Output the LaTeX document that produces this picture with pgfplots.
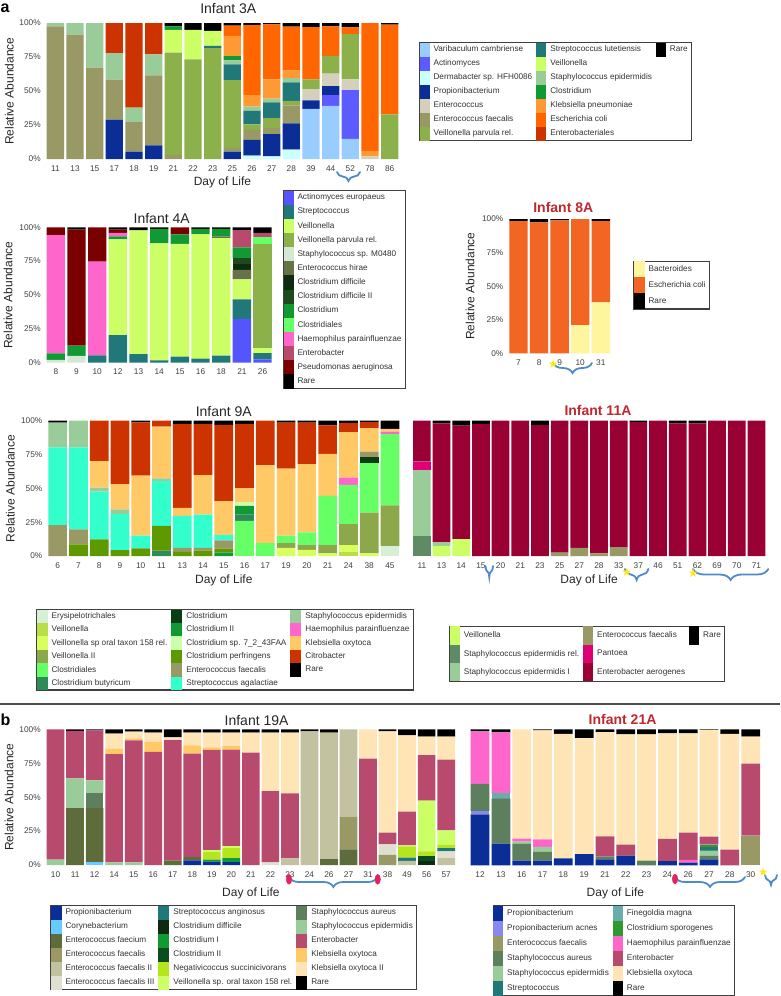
\documentclass[border=0pt]{standalone}
\usepackage{fontspec}
\setmainfont{Liberation Sans}
\newfontfamily\dejavu{DejaVu Sans}
\usepackage{pgfplots}
\pgfplotsset{compat=1.18}
\usepackage{pgfplotstable}
\usetikzlibrary{decorations.pathreplacing}

\definecolor{Var}{HTML}{99CCFF}
\definecolor{Act}{HTML}{5B5BFF}
\definecolor{Der}{HTML}{CCFFFF}
\definecolor{Pro}{HTML}{0A2E96}
\definecolor{Ent}{HTML}{D4D0BC}
\definecolor{EFa}{HTML}{999966}
\definecolor{VPa}{HTML}{8CB04A}
\definecolor{SLu}{HTML}{217878}
\definecolor{Vei}{HTML}{CCFF66}
\definecolor{SEp}{HTML}{99CC99}
\definecolor{Clo}{HTML}{119933}
\definecolor{KPn}{HTML}{FF9933}
\definecolor{ECo}{HTML}{FF6600}
\definecolor{Ebl}{HTML}{CC3300}
\definecolor{AEu}{HTML}{5555FF}
\definecolor{SMo}{HTML}{D5E8D5}
\definecolor{EHi}{HTML}{667346}
\definecolor{CDi}{HTML}{0E2A10}
\definecolor{CDt}{HTML}{1C4A1C}
\definecolor{Csl}{HTML}{66FF66}
\definecolor{Hae}{HTML}{FF66CC}
\definecolor{Ebc}{HTML}{B84A6E}
\definecolor{Pae}{HTML}{7A0000}
\definecolor{Bac}{HTML}{FFF59E}
\definecolor{ECt}{HTML}{F26522}
\definecolor{Ery}{HTML}{D6F0D6}
\definecolor{VeN}{HTML}{B8DE4A}
\definecolor{VOt}{HTML}{D8FF5E}
\definecolor{VII}{HTML}{8CA84A}
\definecolor{Cbu}{HTML}{2E8B57}
\definecolor{CNi}{HTML}{0A3D14}
\definecolor{CSe}{HTML}{CCFFAA}
\definecolor{Cpe}{HTML}{5F9900}
\definecolor{SAg}{HTML}{33FFCC}
\definecolor{KOx}{HTML}{FFC966}
\definecolor{SEr}{HTML}{5E8A66}
\definecolor{Pan}{HTML}{DD0077}
\definecolor{EAe}{HTML}{990033}
\definecolor{Cor}{HTML}{66CCFF}
\definecolor{EFm}{HTML}{5E6B3A}
\definecolor{EF2}{HTML}{C2C2A0}
\definecolor{EF3}{HTML}{E0E0D0}
\definecolor{CI}{HTML}{119933}
\definecolor{CII}{HTML}{0A4D1E}
\definecolor{Neg}{HTML}{B5E61D}
\definecolor{SAu}{HTML}{5E7F5E}
\definecolor{KO2}{HTML}{FFE4B5}
\definecolor{PAc}{HTML}{8888EE}
\definecolor{Fin}{HTML}{6AABAB}
\definecolor{CSp}{HTML}{2E9A2E}
\definecolor{titRed}{HTML}{C1272D}
\definecolor{braceB}{HTML}{4F8BCB}
\definecolor{starY}{HTML}{FFE81A}
\definecolor{ovalR}{HTML}{E0245E}
\definecolor{txt}{HTML}{333333}

% ---------------- data (segment sizes, %) ----------------
\pgfplotstableread{
X Var Act Der Pro Ent EFa VPa SLu Vei SEp Clo KPn ECo Ebl R
0 0 0 0 0 0 97.5 0 0 0 2.5 0 0 0 0 0
1 0 0 0 0 0 91.4 0 0 0 8.6 0 0 0 0 0
2 0 0 0 0 0 67.2 0 0 0 32.8 0 0 0 0 0
3 0 0 0 28.9 0 29.4 0 0 0 19.5 0 0 0 22.2 0
4 0 0 0 5.4 0 21.8 0 0 0 10.6 0 0 0 62.2 0
5 0 0 0 10 0 51.5 0 0 0 15.5 0 0 0 23 0
6 0 0 0 0 0 3 75.3 0 16.7 0 2.5 0 0 0 2.5
7 0 0 0 0 0 0 73.3 0 21.7 0 0 0 0 0 5
8 0 0 0 0 0 0 81.5 1.7 11.1 0 0 0 0 0 5.7
9 0 0 0 5.4 0 2.6 50 11.6 0 3 3 15 7.4 0 2
10 0 0 2.5 11.5 0 7.5 4 9.8 0 3.2 0 8.5 51.5 0 1.5
11 0 0 2 16.3 0 4.4 7.3 11.7 0 2.7 0 14.1 40.5 0 1
12 0 0 6.9 19.3 0 13.3 3.2 13.6 0 3.2 0 5.5 32.3 0 2.7
13 36.8 0 0 6.4 8.2 0 7.1 0 0 0 0 0 38.5 0 3
14 39 7.9 0 6.7 9.1 0 13.1 0 0 0 0 0 21.7 0 2.5
15 14.8 35.8 0 0 7.9 0 33.4 0 0 0 0 0 4.9 0 3.2
16 0 0 0 0 2 0 0 0 0 0 0 4 94 0 0
17 0 0 0 0 0 0 32.8 0 0 0 0 0 66 0 1.2
}\tA

\pgfplotstableread{
X AEu St Ve VP SM EH CD CD2 Cl Cs Ha Eb Ps R
0 0 0 0 0 2 0 0 0 4.9 0 87.4 0 5.7 0
1 0 0 0 0 5 0 0 0 7.6 0 0 0 85.7 1.7
2 0 5.4 0 0 0 0 0 0 0 0 69.2 0 25.4 0
3 0 20.4 70.6 0 0 0 0 0 2.3 0 2.5 0 2.5 1.7
4 0 6.4 91.4 0 0 0 0 0 0 0 0 0 0 2.2
5 0 1.7 86.5 0 0 0 0 0 10.6 0 0 0 0 1.2
6 0 4.4 83.3 0 0 0 0 0 7.1 0 0 0 5.2 0
7 0 3 92 0 0 0 0 0 3.8 0 0 0 0 1.2
8 0 5.2 86.8 0 0 1.3 0 0 5.5 0 0 0 0 1.2
9 32.3 14.5 14.8 0 0 6.9 4.4 4.4 7.9 0 0 12.8 0 2
10 2.5 4.5 3.8 76.9 0 0 0 0 0 4.9 0 3.2 0 4.2
}\tB

\pgfplotstableread{
X Ba EC R
0 0 98.5 1.5
1 0 97.5 2.5
2 0 99 1
3 21 79 0
4 38 60.5 1.5
}\tC

\pgfplotstableread{
X Er Ve V1 V2 Cs Cb Cl C2 C7 Cp EF SA SE Ha KO Ci R
0 0 0 0 0 0 0 0 0 0 0 22.9 57.4 18.2 0 0 0 1.5
1 0 0 0 0 0 0 0 0 0 8.6 11.1 60.6 19.7 0 0 0 0
2 0 0 0 0 0 0 0 0 0 12.3 0 35.2 3 0 19.7 29.8 0
3 0 0 0 0 0 0 0 0 0 4.4 0 26.6 3.5 0 18.7 46.8 0
4 0 0 0 0 0 0 0 0 0 5.7 0 9.3 0 0 44.4 39.4 1.2
5 0 0 0 0 0 4 0 0 0 18.2 0 33.2 2 0 38.2 4.4 0
6 0 0 0 0 0 0 0 0 0 3 3 23.6 0 0 5.9 62 2.5
7 0 0 0 0 0 0 0 0 0 3.9 2.1 24.5 0 0 29.3 37.7 2.5
8 0 0 0 0 0 0 0 2.5 0 3 6 4 0 0 24.9 56.6 3
9 0 0 0 0 25.9 4.6 0 6.5 3 0 0 0 0 0 10 47.5 2.5
10 0 0 0 0 9.6 0 0 0 0 0 0 0 0 0 57.4 33 0
11 0 0 6 3.6 5.4 0 0 0 0 0 0 0 0 0 49.5 34 1.5
12 0 0 4.5 3.5 9.5 0 0 0 0 0 0 0 0 0 50.5 30.5 1.5
13 0 0 2 6 36.5 0 0 0 0 0 0 0 0 0 31 21 3.5
14 0 3 5 15.5 29 0 0 0 0 0 0 0 0 5.4 33.7 6.6 1.8
15 0 0 2 30 36.7 0 4.2 0 0 0 4.2 0 0 0 17.5 4.4 1
16 7.4 0 0 30 52.6 0 0 0 0 0 0 0 0 2 2 0 6
}\tD

\pgfplotstableread{
X Ve SR SI EF Pa EA R
0 0 14.8 48.7 0 6.2 30.3 0
1 7.4 0 2.6 0 0 88 2
2 12.5 0 0 0 0 83.8 3.7
3 0 0 0 0 0 97.5 2.5
4 0 0 0 0 0 100 0
5 0 0 0 0 0 100 0
6 0 0 0 0 0 96.8 3.2
7 0 0 0 2.5 0 97.5 0
8 0 0 0 6 0 94 0
9 0 0 0 2 0 98 0
10 0 0 0 6.5 0 93.5 0
11 0 0 0 0 0 99 1
12 0 0 0 0 0 100 0
13 0 0 0 0 0 98 2
14 0 0 0 0 0 98 2
15 0 0 0 0 0 100 0
16 0 0 0 0 0 100 0
17 0 0 0 0 0 100 0
}\tE

\pgfplotstableread{
X Pr Co Ef Ea E2 E3 Sa Cd C1 C2 Ne V1 Au Se Eb Ko K2 R
0 0 0 0 0 0 0 0 0 0 0 0 0 0 4 96 0 0 0
1 0 0 42 0 0 0 0 0 0 0 0 0 0 21.9 34.9 0 0 1.2
2 0 2 40 0 0 0 0 0 0 0 0 0 10.8 9.6 36.8 0 0 0.8
3 0 0 0 0 0 0 0 0 0 0 0 0 0 2 79.8 4 11 3.2
4 0 0 0 0 0 0 0 0 0 0 0 0 0 2 89.9 1.5 4.9 1.7
5 0 0 0 0 0 0 0 0 0 0 0 0 0 0 83.3 7.4 6.8 2.5
6 0 0 3.5 0 0 0 0 0 0 0 0 0 0 0 88.5 0 2.1 5.9
7 3.4 0 2.5 0 0 0 0 0 0 0 0 0 0 0 76.2 6.1 9.3 2.5
8 2.5 0 0 0 0 0 0 0 1.5 0 5.8 1.2 0 0 73.8 1.9 10.8 2.5
9 2.2 0 0 0 0 0 0 0 2.8 0 7.5 1.5 0 0 71 2.7 9.8 2.5
10 0 0 0 0 0 0 0 0 0 0 0 0 0 0 82.8 0 14.7 2.5
11 0 0 0 0 0 2 0 0 0 0 0 0 0 0 52.5 0 43 2.5
12 0 0 0 0 4.9 0 0 0 0 0 0 0 0 0 47.9 0 44.7 2.5
13 0 0 0 0 98.5 0 0 0 0 0 0 0 0 0 0 0 0 1.5
14 0 0 4.4 0 93.1 0 0 0 0 0 0 0 0 0 0 0 0 2.5
15 0 0 11.5 24.1 64.4 0 0 0 0 0 0 0 0 0 0 0 0 0
16 0 0 0 0 0 0 0 0 0 0 0 0 0 0 78.4 0 21.6 0
17 0 0 0 7.4 0 7.8 0 0 0 0 0 0 0 0 8.6 0 74.7 1.5
18 0 0 0 0 3 0 2.4 0 0 0 8.4 0.7 0 0 24.8 0 56.3 4.4
19 0 0 0 0 0 0 0 3 0 3.5 3.5 37.5 0 0 33.5 0 13.6 5.4
20 0 0 0 0 5.1 4.9 2.5 0 0 0 2.5 10.5 0 0 52.2 0 16.9 5.4
}\tF

\pgfplotstableread{
X Pr Pa Ef Au Se St Fi Cs Ha Eb Ko R
0 37.5 2.5 0 19.8 0 0 0 0 38.7 0 0 1.5
1 16 0 0 33 0 0 3.9 0 44.9 0 0 2.2
2 3.4 0 0 12.3 1.7 0 0 0 2.2 0 80.4 0
3 3.4 0 0 6.4 3.7 0 0 0 5.6 0 80.2 0.7
4 5.1 0 0 0 0 0 0 0 0 0 91.5 3.4
5 8.3 0 0 0 0 0 0 0 0 0 85.3 6.4
6 4.4 0 0 2 0 0 0 0 0 14.9 76.7 2
7 7.1 0 0 0 0 0 0 0 0 8.1 81.1 3.7
8 0 0 0 3.4 0 0 0 0 0 0 92.9 3.7
9 3 0 0 0 0 0 0 0 0 16.4 77.7 2.9
10 2 0 0 0 0 0 0 0 2 20 73.1 2.9
11 4.4 0 0 2.7 3.7 2.4 0 2 0 5.9 78.4 0.5
12 0 0 0 0 0 0 0 0 0 11.5 85.1 3.4
13 0 0 21.8 0 0 0 0 0 0 53 19.8 5.4
}\tG

\newcommand\BS[3]{\addplot[fill=#1] table[x=X,y=#2]{#3};}
\newcommand\LE[2]{\addlegendimage{LI,fill=#1}\addlegendentry{\mbox{#2}}}
\newcommand\LX{\addlegendimage{empty legend}\addlegendentry{}}

\pgfplotsset{
  sw/.style 2 args={legend image code/.code={\fill[##1] (0pt,-#1) rectangle (#2,#1);}},
  panel/.style={
    scale only axis, anchor=north west, ybar stacked, ymin=0, ymax=100,
    enlargelimits=false, clip=false,
    axis line style={draw=none}, major tick length=0pt, tick style={draw=none},
    ytick={0,25,50,75,100}, yticklabels={0\%,25\%,50\%,75\%,100\%},
    tick label style={font=\fontsize{8.3}{9}\selectfont, text=black!75},
    xticklabel style={anchor=base, yshift=-12pt},
    yticklabel style={anchor=east, xshift=-2.5pt},
    every axis plot/.append style={draw=none},
    legend cell align=left,
    legend style={draw=black!75, line width=1.1pt, inner sep=0pt, row sep=0pt, column sep=0pt,
      font=\fontsize{8.2}{9}\selectfont, text=txt, fill=white,
      nodes={inner xsep=4pt, inner ysep=0pt}},
  },
  ttl/.style n args={3}{title={#1}, every axis title/.style={at={(axis description cs:#2,1)}, anchor=base, yshift=#3, font=\fontsize{14}{16}\selectfont, text=black!85}},
  ttlr/.style n args={3}{title={#1}, every axis title/.style={at={(axis description cs:#2,1)}, anchor=base, yshift=#3, font=\bfseries\fontsize{14}{16}\selectfont, text=titRed}},
  xl/.style={xlabel={Day of Life}, every axis x label/.style={at={(axis description cs:0.5,0)}, anchor=base, yshift=#1, font=\fontsize{12}{14}\selectfont, text=black!85}},
  yl/.style={ylabel={Relative Abundance}, every axis y label/.style={at={(axis description cs:#1,0.5)}, rotate=90, anchor=center, font=\fontsize{12}{14}\selectfont, text=black!85}},
}

\begin{document}
\begin{tikzpicture}
\useasboundingbox (0pt,0pt) rectangle (780pt,-996pt);

% ================= Infant 3A =================
\begin{axis}[panel, at={(46.7pt,-23pt)}, width=351.6pt, height=136pt,
  xmin=-0.44, xmax=17.44, bar width=0.88,
  xtick={0,...,17}, xticklabels={11,13,15,17,18,19,21,22,23,25,26,27,28,39,44,52,78,86},
  ttl={Infant 3A}{0.5165}{9.7pt}, xl=-26.3pt, yl=-0.106,
  LI/.style={sw={7pt}{10pt}}, legend columns=3,
  legend style={at={(axis description cs:1.0589,0.860)}, anchor=north west,
    column 2/.style={text width=108.7pt}, column 4/.style={text width=112pt}, column 6/.style={text width=28pt}}]
\LE{Var}{Varibaculum cambriense}\LE{SLu}{Streptococcus lutetiensis}\LE{black}{Rare}
\LE{Act}{Actinomyces}\LE{Vei}{Veillonella}\LX
\LE{Der}{Dermabacter sp. HFH0086}\LE{SEp}{Staphylococcus epidermidis}\LX
\LE{Pro}{Propionibacterium}\LE{Clo}{Clostridium}\LX
\LE{Ent}{Enterococcus}\LE{KPn}{Klebsiella pneumoniae}\LX
\LE{EFa}{Enterococcus faecalis}\LE{ECo}{Escherichia coli}\LX
\LE{VPa}{Veillonella parvula rel.}\LE{Ebl}{Enterobacteriales}\LX
\BS{Var}{Var}{\tA}\BS{Act}{Act}{\tA}\BS{Der}{Der}{\tA}\BS{Pro}{Pro}{\tA}\BS{Ent}{Ent}{\tA}
\BS{EFa}{EFa}{\tA}\BS{VPa}{VPa}{\tA}\BS{SLu}{SLu}{\tA}\BS{Vei}{Vei}{\tA}\BS{SEp}{SEp}{\tA}
\BS{Clo}{Clo}{\tA}\BS{KPn}{KPn}{\tA}\BS{ECo}{ECo}{\tA}\BS{Ebl}{Ebl}{\tA}\BS{black}{R}{\tA}
\end{axis}

% ================= Infant 4A =================
\begin{axis}[panel, at={(46.7pt,-227.3pt)}, width=225pt, height=135.4pt,
  xmin=-0.4425, xmax=10.4425, bar width=0.885,
  xtick={0,...,10}, xticklabels={8,9,10,12,13,14,15,16,18,21,26},
  ttl={Infant 4A}{0.511}{4pt}, yl=-0.172,
  LI/.style={sw={7.07pt}{10pt}}, legend columns=1,
  legend style={at={(axis description cs:1.050,1.2755)}, anchor=north west,
    column 2/.style={text width=118pt}}]
\LE{AEu}{Actinomyces europaeus}\LE{SLu}{Streptococcus}\LE{Vei}{Veillonella}
\LE{VPa}{Veillonella parvula rel.}\LE{SMo}{Staphylococcus sp. M0480}\LE{EHi}{Enterococcus hirae}
\LE{CDi}{Clostridium difficile}\LE{CDt}{Clostridium difficile II}\LE{Clo}{Clostridium}
\LE{Csl}{Clostridiales}\LE{Hae}{Haemophilus parainfluenzae}\LE{Ebc}{Enterobacter}
\LE{Pae}{Pseudomonas aeruginosa}\LE{black}{Rare}
\BS{AEu}{AEu}{\tB}\BS{SLu}{St}{\tB}\BS{Vei}{Ve}{\tB}\BS{VPa}{VP}{\tB}\BS{SMo}{SM}{\tB}
\BS{EHi}{EH}{\tB}\BS{CDi}{CD}{\tB}\BS{CDt}{CD2}{\tB}\BS{Clo}{Cl}{\tB}\BS{Csl}{Cs}{\tB}
\BS{Hae}{Ha}{\tB}\BS{Ebc}{Eb}{\tB}\BS{Pae}{Ps}{\tB}\BS{black}{R}{\tB}
\end{axis}

% ================= Infant 8A =================
\begin{axis}[panel, at={(509.3pt,-219pt)}, width=100.7pt, height=134.3pt,
  xmin=-0.445, xmax=4.445, bar width=0.89,
  xtick={0,...,4}, xticklabels={7,8,9,10,31},
  ttlr={Infant 8A}{0.536}{6.3pt}, yl=-0.390,
  LI/.style={sw={7.95pt}{10.7pt}}, legend columns=1,
  legend style={at={(axis description cs:1.2314,0.6895)}, anchor=north west,
    column 2/.style={text width=64pt}}]
\LE{Bac}{Bacteroides}\LE{ECt}{Escherichia coli}\LE{black}{Rare}
\BS{Bac}{Ba}{\tC}\BS{ECt}{EC}{\tC}\BS{black}{R}{\tC}
\end{axis}

% ================= Infant 9A =================
\begin{axis}[panel, at={(48.3pt,-420.7pt)}, width=351pt, height=135.3pt,
  xmin=-0.45, xmax=16.45, bar width=0.9,
  xtick={0,...,16}, xticklabels={6,7,8,9,10,11,13,14,15,16,17,19,20,21,24,38,45},
  ttl={Infant 9A}{0.5}{4.7pt}, xl=-27.6pt, yl=-0.108,
  LI/.style={sw={6.7pt}{11pt}}, legend columns=3,
  legend style={at={(axis description cs:-0.035,-0.3917)}, anchor=north west,
    column 2/.style={text width=116pt}, column 4/.style={text width=97pt}, column 6/.style={text width=100pt}}]
\LE{Ery}{Erysipelotrichales}\LE{CNi}{Clostridium}\LE{SEp}{Staphylococcus epidermidis}
\LE{VeN}{Veillonella}\LE{Clo}{Clostridium II}\LE{Hae}{Haemophilus parainfluenzae}
\LE{VOt}{Veillonella sp oral taxon 158 rel.}\LE{CSe}{Clostridium sp. 7\_2\_43FAA}\LE{KOx}{Klebsiella oxytoca}
\LE{VII}{Veillonella II}\LE{Cpe}{Clostridium perfringens}\LE{Ebl}{Citrobacter}
\LE{Csl}{Clostridiales}\LE{EFa}{Enterococcus faecalis}\LE{black}{Rare}
\LE{Cbu}{Clostridium butyricum}\LE{SAg}{Streptococcus agalactiae}\LX
\BS{Ery}{Er}{\tD}\BS{VeN}{Ve}{\tD}\BS{VOt}{V1}{\tD}\BS{VII}{V2}{\tD}\BS{Csl}{Cs}{\tD}
\BS{Cbu}{Cb}{\tD}\BS{CNi}{Cl}{\tD}\BS{Clo}{C2}{\tD}\BS{CSe}{C7}{\tD}\BS{Cpe}{Cp}{\tD}
\BS{EFa}{EF}{\tD}\BS{SAg}{SA}{\tD}\BS{SEp}{SE}{\tD}\BS{Hae}{Ha}{\tD}\BS{KOx}{KO}{\tD}
\BS{Ebl}{Ci}{\tD}\BS{black}{R}{\tD}
\end{axis}

% ================= Infant 11A =================
\begin{axis}[panel, at={(413pt,-420.7pt)}, width=352.3pt, height=135.3pt,
  xmin=-0.45, xmax=17.45, bar width=0.9, ytick=\empty,
  xtick={0,...,17}, xticklabels={11,13,14,15,20,21,23,25,27,28,33,37,46,51,62,69,70,71},
  ttlr={Infant 11A}{0.525}{5.7pt}, xl=-27.6pt,
  LI/.style={sw={9.2pt}{10pt}}, legend columns=3,
  legend style={at={(axis description cs:0.103,-0.5152)}, anchor=north west,
    column 2/.style={text width=115.4pt}, column 4/.style={text width=97pt}, column 6/.style={text width=13pt}}]
\LE{Vei}{Veillonella}\LE{EFa}{Enterococcus faecalis}\LE{black}{Rare}
\LE{SEr}{Staphylococcus epidermidis rel.}\LE{Pan}{Pantoea}\LX
\LE{SEp}{Staphylococcus epidermidis I}\LE{EAe}{Enterobacter aerogenes}\LX
\BS{Vei}{Ve}{\tE}\BS{SEr}{SR}{\tE}\BS{SEp}{SI}{\tE}\BS{EFa}{EF}{\tE}\BS{Pan}{Pa}{\tE}
\BS{EAe}{EA}{\tE}\BS{black}{R}{\tE}
\end{axis}

% ================= Infant 19A =================
\begin{axis}[panel, at={(46.7pt,-729.3pt)}, width=408.3pt, height=135.7pt,
  xmin=-0.453, xmax=20.453, bar width=0.906,
  xtick={0,...,20}, xticklabels={10,11,12,14,15,16,17,18,19,20,21,22,23,24,26,27,31,38,49,56,57},
  ttl={Infant 19A}{0.514}{4.3pt}, xl=-31pt, yl=-0.092,
  LI/.style={sw={7pt}{11pt}}, legend columns=3,
  legend style={at={(axis description cs:0.0081,-0.2948)}, anchor=north west,
    column 2/.style={text width=96.7pt}, column 4/.style={text width=130pt}, column 6/.style={text width=113pt}}]
\LE{Pro}{Propionibacterium}\LE{SLu}{Streptococcus anginosus}\LE{SAu}{Staphylococcus aureus}
\LE{Cor}{Corynebacterium}\LE{CDi}{Clostridium difficile}\LE{SEp}{Staphylococcus epidermidis}
\LE{EFm}{Enterococcus faecium}\LE{CI}{Clostridium I}\LE{Ebc}{Enterobacter}
\LE{EFa}{Enterococcus faecalis}\LE{CII}{Clostridium II}\LE{KOx}{Klebsiella oxytoca}
\LE{EF2}{Enterococcus faecalis II}\LE{Neg}{Negativicoccus succinicivorans}\LE{KO2}{Klebsiella oxytoca II}
\LE{EF3}{Enterococcus faecalis III}\LE{Vei}{Veillonella sp. oral taxon 158 rel.}\LE{black}{Rare}
\BS{Pro}{Pr}{\tF}\BS{Cor}{Co}{\tF}\BS{EFm}{Ef}{\tF}\BS{EFa}{Ea}{\tF}\BS{EF2}{E2}{\tF}
\BS{EF3}{E3}{\tF}\BS{SLu}{Sa}{\tF}\BS{CDi}{Cd}{\tF}\BS{CI}{C1}{\tF}\BS{CII}{C2}{\tF}
\BS{Neg}{Ne}{\tF}\BS{Vei}{V1}{\tF}\BS{SAu}{Au}{\tF}\BS{SEp}{Se}{\tF}\BS{Ebc}{Eb}{\tF}
\BS{KOx}{Ko}{\tF}\BS{KO2}{K2}{\tF}\BS{black}{R}{\tF}
\end{axis}

% ================= Infant 21A =================
\begin{axis}[panel, at={(470.7pt,-729.3pt)}, width=289.3pt, height=136pt,
  xmin=-0.45, xmax=13.45, bar width=0.9, ytick=\empty,
  xtick={0,...,13}, xticklabels={12,13,16,17,18,19,21,22,23,24,26,27,28,30},
  ttlr={Infant 21A}{0.525}{5.3pt}, xl=-30.7pt,
  LI/.style={sw={7.5pt}{10pt}}, legend columns=2,
  legend style={at={(axis description cs:0.076,-0.2919)}, anchor=north west,
    column 2/.style={text width=111pt}, column 4/.style={text width=113.6pt}}]
\LE{Pro}{Propionibacterium}\LE{Fin}{Finegoldia magna}
\LE{PAc}{Propionibacterium acnes}\LE{CSp}{Clostridium sporogenes}
\LE{EFa}{Enterococcus faecalis}\LE{Hae}{Haemophilus parainfluenzae}
\LE{SAu}{Staphylococcus aureus}\LE{Ebc}{Enterobacter}
\LE{SEp}{Staphylococcus epidermidis}\LE{KO2}{Klebsiella oxytoca}
\LE{SLu}{Streptococcus}\LE{black}{Rare}
\BS{Pro}{Pr}{\tG}\BS{PAc}{Pa}{\tG}\BS{EFa}{Ef}{\tG}\BS{SAu}{Au}{\tG}\BS{SEp}{Se}{\tG}
\BS{SLu}{St}{\tG}\BS{Fin}{Fi}{\tG}\BS{CSp}{Cs}{\tG}\BS{Hae}{Ha}{\tG}\BS{Ebc}{Eb}{\tG}
\BS{KO2}{Ko}{\tG}\BS{black}{R}{\tG}
\end{axis}

% ================= decorations =================
\node[anchor=base west, inner sep=0pt, font=\bfseries\fontsize{16}{16}\selectfont] at (0.5pt,-12.7pt) {a};
\node[anchor=base west, inner sep=0pt, font=\bfseries\fontsize{16}{16}\selectfont] at (0.5pt,-725pt) {b};
\draw[line width=1.3pt, black!70] (0pt,-704pt) -- (780pt,-704pt);

\begin{scope}[draw=braceB, line width=1.8pt, line cap=round]
\draw[decorate, decoration={brace, mirror, amplitude=9pt}] (337pt,-172pt) -- (360pt,-172pt);
\draw[decorate, decoration={brace, mirror, amplitude=10pt}] (553pt,-363pt) -- (592pt,-363pt);
\draw[decorate, decoration={brace, mirror, amplitude=11pt}] (485.5pt,-566pt) -- (493pt,-566pt);
\draw[decorate, decoration={brace, mirror, amplitude=11pt}] (625pt,-569pt) -- (648.3pt,-569pt);
\draw[decorate, decoration={brace, mirror, amplitude=11pt}] (693pt,-569pt) -- (768.3pt,-569pt);
\draw[decorate, decoration={brace, mirror, amplitude=10pt}] (289pt,-877pt) -- (377.7pt,-877pt);
\draw[decorate, decoration={brace, mirror, amplitude=10pt}] (675pt,-877pt) -- (745pt,-877pt);
\draw[decorate, decoration={brace, mirror, amplitude=10pt}] (765pt,-875pt) -- (777pt,-875pt);
\end{scope}

\begin{axis}[at={(0pt,0pt)}, anchor=north west, scale only axis, width=780pt, height=996pt,
  xmin=0, xmax=780, ymin=-996, ymax=0, hide axis, clip=false]
\addplot[only marks, mark=*, mark size=5pt, mark options={draw=ovalR, fill=ovalR, xscale=0.55}]
  coordinates {(289,-879.3) (377.7,-879.3) (675,-879)};
\addplot[only marks, mark=text, text mark={\dejavu\fontsize{12}{12}\selectfont ★}, text mark as node=true,
  text mark style={text=starY, inner sep=0pt}]
  coordinates {(553.3,-364.3) (626.7,-572.3) (693.3,-573.3) (763.3,-872.3)};
\end{axis}
\end{tikzpicture}
\end{document}
